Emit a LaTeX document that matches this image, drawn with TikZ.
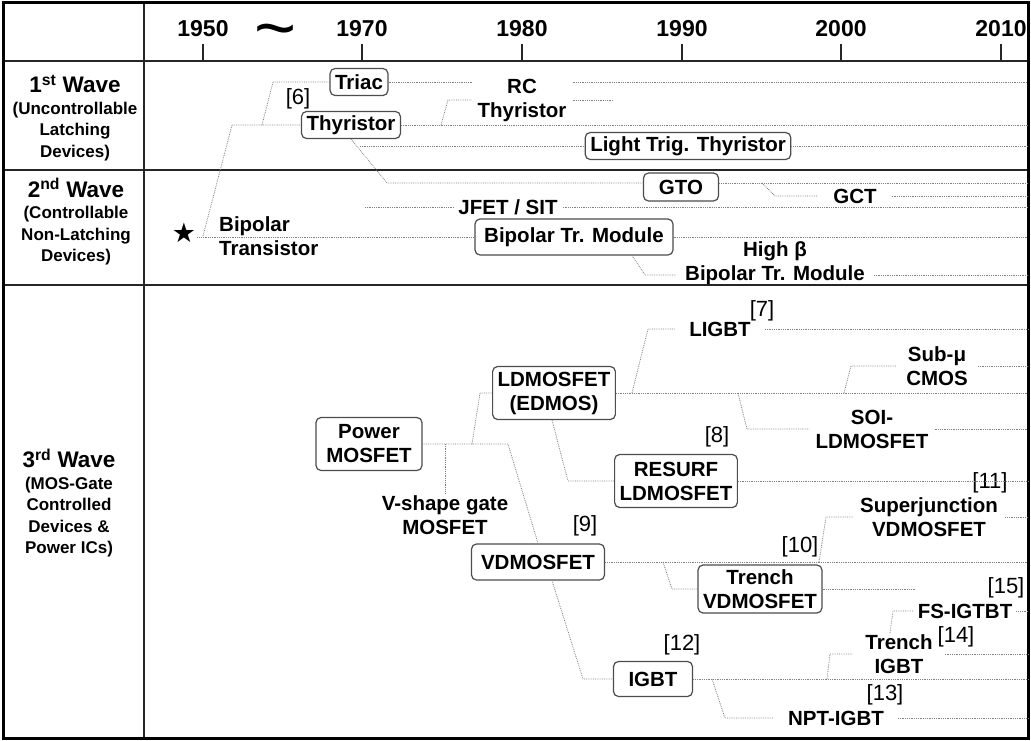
\documentclass[tikz,border=0pt]{standalone}
\usepackage{graphicx}
\usepackage{fontspec}
\setmainfont{Liberation Sans}
\newfontfamily\starfont{DejaVu Sans}
\newcommand\devfont{\fontsize{20.5}{24}\selectfont\bfseries}
\newcommand\yearfont{\fontsize{23}{26}\selectfont\bfseries}
\newcommand\wavefont{\fontsize{22.5}{26}\selectfont\bfseries}
\newcommand\wavesub{\fontsize{17}{21.5}\selectfont\bfseries}
\newcommand\refnofont{\fontsize{22}{24}\selectfont}

\begin{document}
\begin{tikzpicture}[
	x = 1pt, y = -1pt,
	dev/.style = {draw = black!70, line width = 1.2pt, rounded corners = 5pt, font = \devfont, align = center, inner xsep = 5pt, inner ysep = 2pt, minimum height = 27pt},
	lbl/.style = {font = \devfont, align = center, inner xsep = 6pt, inner ysep = 2pt},
	wave/.style = {font = \wavesub, align = center},
	refno/.style = {font = \refnofont, inner sep = 0pt},
	conn/.style = {densely dotted, draw = black!50, line width = 0.8pt},
	rowline/.style = {draw = black!85, line width = 2pt},
	outer/.style = {draw = black, line width = 3pt}
	]
	\useasboundingbox (0,0) rectangle (1031,740);
	\coordinate (edge) at (1028,0);

	\draw[rowline] (3,61) -- (1028,61);
	\draw[rowline] (3,170) -- (1028,170);
	\draw[rowline] (3,285) -- (1028,285);
	\draw[rowline] (144,2) -- (144,738);
	\draw[outer] (3,2) rectangle (1028,738);

	\foreach \x/\yr in {203/1950, 362/1970, 522/1980, 682/1990, 841/2000, 1001/2010} {
		\draw[draw = black!85, line width = 1.5pt] (\x,44) -- (\x,61);
		\node[font = \yearfont] (y\yr) at (\x,29) {\yr};
	}
	\node[font = \fontsize{72}{72}\selectfont, anchor = base, inner sep = 0pt] (gap) at (276,52) {\textasciitilde};

	\node[wave] (w1) at (75,118) {{\wavefont 1\textsuperscript{st} Wave}\\(Uncontrollable\\Latching\\Devices)};
	\node[wave] (w2) at (76,222) {{\wavefont 2\textsuperscript{nd} Wave}\\(Controllable\\Non-Latching\\Devices)};
	\node[wave] (w3) at (69,503) {{\wavefont 3\textsuperscript{rd} Wave}\\(MOS-Gate\\Controlled\\Devices \&\\Power ICs)};

	\node[dev] (triac) at (359,82) {Triac};
	\node[dev] (thy) at (351,125) {Thyristor};
	\node[refno] (r6) at (298,99) {[6]};
	\node[lbl] (rc) at (522,100) {RC\\Thyristor};
	\node[dev] (ltt) at (688,146) {Light Trig. Thyristor};
	\node[dev, minimum width = 75pt, minimum height = 28pt] (gto) at (681,187) {GTO};
	\node[lbl, inner xsep = 15pt] (gct) at (855,196) {GCT};
	\node[lbl, inner xsep = 5pt] (jfet) at (508,207) {JFET / SIT};
	\node[font = \starfont\fontsize{27}{28}\selectfont, inner sep = 1pt] (star) at (184,233) {★};
	\node[lbl, align = left, anchor = west, inner xsep = 0pt] (bt) at (219,236) {Bipolar\\Transistor};
	\node[dev, minimum width = 198pt, minimum height = 36pt] (btm) at (574,237) {Bipolar Tr. Module};
	\node[lbl, inner xsep = 9pt] (hb) at (775,263) {High β\\Bipolar Tr. Module};

	\node[dev, minimum width = 106pt, minimum height = 53pt] (pm) at (369,444) {Power\\MOSFET};
	\node[lbl] (vs) at (445,515) {V-shape gate\\MOSFET};
	\node[dev, minimum height = 53pt] (ld) at (554,393) {LDMOSFET\\(EDMOS)};
	\node[lbl, inner xsep = 14pt] (ligbt) at (720,329) {LIGBT};
	\node[refno] (r7) at (762,311) {[7]};
	\node[lbl, inner xsep = 10pt] (cmos) at (937,366) {Sub-μ\\CMOS};
	\node[lbl] (soi) at (872,429) {SOI-\\LDMOSFET};
	\node[refno] (r8) at (717,437) {[8]};
	\node[dev, minimum height = 53pt] (rs) at (676,481) {RESURF\\LDMOSFET};
	\node[refno] (r11) at (990,483) {[11]};
	\node[lbl, inner xsep = 7pt] (sj) at (929,517) {Superjunction\\VDMOSFET};
	\node[refno] (r9) at (585,526) {[9]};
	\node[dev, minimum width = 133pt, minimum height = 36pt] (vd) at (538,562) {VDMOSFET};
	\node[refno] (r10) at (800,547) {[10]};
	\node[dev, minimum height = 48pt] (tv) at (760,589) {Trench\\VDMOSFET};
	\node[refno] (r15) at (1006,588) {[15]};
	\node[lbl, inner xsep = 4pt] (fs) at (965,611) {FS-IGTBT};
	\node[lbl, inner xsep = 12pt] (tig) at (899,654) {Trench\\IGBT};
	\node[refno] (r14) at (956,637) {[14]};
	\node[refno] (r12) at (682,645) {[12]};
	\node[dev, minimum width = 79pt, minimum height = 35pt] (ig) at (653,679) {IGBT};
	\node[refno] (r13) at (885,695) {[13]};
	\node[lbl, inner xsep = 14pt] (npt) at (836,718) {NPT-IGBT};

	\coordinate (bt1) at (203,236);
	\coordinate (bt2) at (262,125);
	\coordinate (rc1) at (441,125);
	\coordinate (rcend) at (613,100);
	\coordinate (lt1) at (360,146);
	\coordinate (gct1) at (762,183);
	\coordinate (jfet1) at (365,207);
	\coordinate (vs1) at (445,444);
	\coordinate (ld1) at (472,444);
	\coordinate (lg1) at (632,393);
	\coordinate (so1) at (738,393);
	\coordinate (cm1) at (844,393);
	\coordinate (tv1) at (663,562);
	\coordinate (tvend) at (915,589);
	\coordinate (sj1) at (819,562);
	\coordinate (np1) at (712,679);
	\coordinate (ti1) at (827,679);
	\coordinate (fs1) at (890,633);

	\draw[conn] (star.east |- btm.west) -- (btm.west);
	\draw[conn] (btm.east) -- (btm.east -| edge);
	\draw[conn] (bt1) -- (232,125) -- (thy.west);
	\draw[conn] (bt2) -- (273,82) -- (triac.west);
	\draw[conn] (triac.east) -- (triac.east -| rc.west);
	\draw[conn] (triac.east -| rc.east) -- (triac.east -| edge);
	\draw[conn] (thy.east) -- (thy.east -| edge);
	\draw[conn] (rc1) -- (448,100) -- (rc.west);
	\draw[conn] (rc.east) -- (rcend);
	\draw[conn] (thy.south) -- (387,183) -- ([yshift=4pt]gto.west);
	\draw[conn] (lt1) -- (ltt.west);
	\draw[conn] (ltt.east) -- (ltt.east -| edge);
	\draw[conn] ([yshift=4pt]gto.east) -- ([yshift=4pt]gto.east -| edge);
	\draw[conn] (gct1) -- (775,196) -- (gct.west);
	\draw[conn] (gct.east) -- (gct.east -| edge);
	\draw[conn] (jfet1) -- (jfet.west);
	\draw[conn] (jfet.east) -- (jfet.east -| edge);
	\draw[conn] ([xshift=58pt]btm.south) -- (645,275) -- ([yshift=-12pt]hb.west);
	\draw[conn] ([yshift=-12pt]hb.east) -- ([yshift=-12pt]hb.east -| edge);

	\draw[conn] (pm.east) -- (508,444) -- (vd.north);
	\draw[conn] (vs1) -- (vs.north);
	\draw[conn] (ld1) -- (480,393) -- (ld.west);
	\draw[conn] (ld.east) -- (ld.east -| edge);
	\draw[conn] (lg1) -- (648,329) -- (ligbt.west);
	\draw[conn] (ligbt.east) -- (ligbt.east -| edge);
	\draw[conn] (so1) -- (747,429) -- (soi.west);
	\draw[conn] (soi.east) -- (soi.east -| edge);
	\draw[conn] (cm1) -- (851,366) -- (cmos.west);
	\draw[conn] (cmos.east) -- (cmos.east -| edge);
	\draw[conn] ([xshift=-2pt]ld.south) -- (568,481) -- (rs.west);
	\draw[conn] (rs.east) -- (rs.east -| edge);
	\draw[conn] (vd.east) -- (vd.east -| edge);
	\draw[conn] (tv1) -- (672,589) -- (tv.west);
	\draw[conn] (tv.east) -- (tvend);
	\draw[conn] (sj1) -- (826,517) -- (sj.west);
	\draw[conn] (sj.east) -- (sj.east -| edge);
	\draw[conn] ([xshift=14pt]vd.south) -- (583,679) -- (ig.west);
	\draw[conn] (ig.east) -- (ig.east -| edge);
	\draw[conn] (np1) -- (725,718) -- (npt.west);
	\draw[conn] (npt.east) -- (npt.east -| edge);
	\draw[conn] (ti1) -- (830,654) -- (tig.west);
	\draw[conn] (tig.east) -- (tig.east -| edge);
	\draw[conn] (fs1) -- (893,611) -- (fs.west);
	\draw[conn] (fs.east) -- (fs.east -| edge);
\end{tikzpicture}
\end{document}
